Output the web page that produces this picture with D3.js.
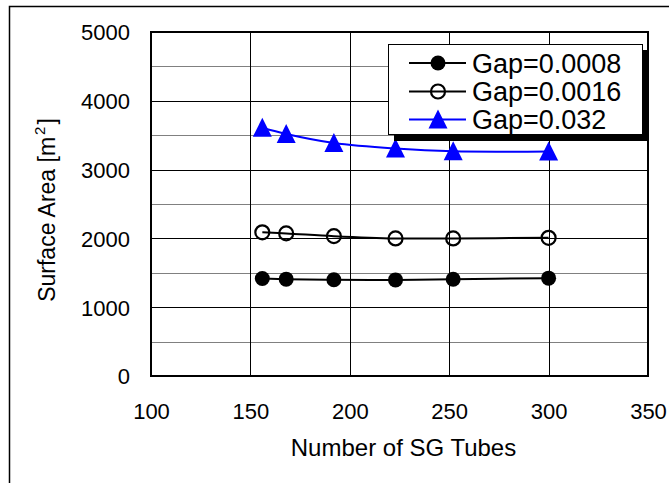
<!DOCTYPE html><html><head><meta charset="UTF-8"><script src="https://d3js.org/d3.v7.min.js"></script><style>
            body { margin: 0; background: #fff; }
            text { font-family: "Liberation Sans", Arial, sans-serif; fill: #000; }
        </style></head><body><div id="chart"></div><script>
            const tubes = [156, 168, 192, 223, 252, 300];
            const gap0008 = [1418, 1408, 1398, 1397, 1407, 1422];
            const gap0016 = [2088, 2073, 2033, 2000, 2000, 2008];
            const gap032 = [3608, 3518, 3387, 3306, 3266, 3264];
            const seriesNames = ['Gap=0.0008', 'Gap=0.0016', 'Gap=0.032'];
            const xTicks = [100, 150, 200, 250, 300, 350];
            const yTicks = [0, 1000, 2000, 3000, 4000, 5000];

            const fullWidth = 669, fullHeight = 483;
            const plotL = 151, plotR = 648, plotT = 32, plotB = 376;

            const svg = d3.select('#chart').append('svg')
                .attr('width', fullWidth)
                .attr('height', fullHeight);

            // outer chart frame (only left/top edges fall inside the picture)
            svg.append('rect')
                .attr('x', 9.5).attr('y', 6.5)
                .attr('width', 700).attr('height', 520)
                .attr('fill', 'none').attr('stroke', '#000').attr('stroke-width', 1.5);

            const x = d3.scaleLinear().domain([100, 350]).range([plotL, plotR]);
            const y = d3.scaleLinear().domain([0, 5000]).range([plotB, plotT]);

            // gridlines
            const grid = svg.append('g');
            grid.selectAll('.minor')
                .data(d3.range(500, 5000, 1000))
                .enter().append('line')
                .attr('x1', plotL).attr('x2', plotR)
                .attr('y1', d => Math.round(y(d)) + 0.5).attr('y2', d => Math.round(y(d)) + 0.5)
                .attr('stroke', '#808080');
            grid.selectAll('.major')
                .data(yTicks.slice(1, -1))
                .enter().append('line')
                .attr('x1', plotL).attr('x2', plotR)
                .attr('y1', d => Math.round(y(d)) + 0.5).attr('y2', d => Math.round(y(d)) + 0.5)
                .attr('stroke', '#000');
            grid.selectAll('.vert')
                .data(xTicks.slice(1, -1))
                .enter().append('line')
                .attr('y1', plotT).attr('y2', plotB)
                .attr('x1', d => Math.round(x(d)) + 0.5).attr('x2', d => Math.round(x(d)) + 0.5)
                .attr('stroke', '#000');

            svg.append('rect')
                .attr('x', plotL).attr('y', plotT)
                .attr('width', plotR - plotL).attr('height', plotB - plotT)
                .attr('fill', 'none').attr('stroke', '#000').attr('stroke-width', 2);

            // axes (labels only)
            const xAxis = svg.append('g')
                .attr('transform', `translate(0,${plotB})`)
                .call(d3.axisBottom(x).tickValues(xTicks).tickSize(0).tickFormat(d3.format('d')));
            xAxis.select('.domain').remove();
            xAxis.selectAll('text').attr('y', 43).attr('dy', 0).style('font-size', '22px')
                .style('font-family', '"Liberation Sans", Arial, sans-serif');

            const yAxis = svg.append('g')
                .attr('transform', `translate(${plotL},0)`)
                .call(d3.axisLeft(y).tickValues(yTicks).tickSize(0).tickFormat(d3.format('d')));
            yAxis.select('.domain').remove();
            yAxis.selectAll('text').attr('x', -21).attr('dy', '0.36em').style('font-size', '22px')
                .style('font-family', '"Liberation Sans", Arial, sans-serif');

            svg.append('text')
                .attr('x', (plotL + plotR) / 2 + 4).attr('y', 456)
                .attr('text-anchor', 'middle')
                .style('font-size', '24px')
                .text('Number of SG Tubes');

            const yTitle = svg.append('text')
                .attr('transform', `translate(55,${(plotT + plotB) / 2 + 6}) rotate(-90)`)
                .attr('text-anchor', 'middle')
                .style('font-size', '23px');
            yTitle.append('tspan').text('Surface Area [m');
            yTitle.append('tspan').attr('dy', -10).attr('dx', 2).style('font-size', '15px').text('2');
            yTitle.append('tspan').attr('dy', 10).attr('dx', 2).text(']');

            // series
            const series = [
                {name: seriesNames[0], values: gap0008, color: '#000', marker: 'filled'},
                {name: seriesNames[1], values: gap0016, color: '#000', marker: 'open'},
                {name: seriesNames[2], values: gap032, color: '#0000ff', marker: 'triangle'}
            ];

            const line = d3.line()
                .x((d, i) => x(tubes[i]))
                .y(d => y(d))
                .curve(d3.curveCatmullRom.alpha(0.5));

            function drawMarker(g, type, color) {
                if (type === 'filled') {
                    g.append('circle').attr('r', 7.5).attr('fill', '#000');
                } else if (type === 'open') {
                    g.append('circle').attr('r', 7).attr('fill', 'none')
                        .attr('stroke', '#000').attr('stroke-width', 2.2);
                } else {
                    g.append('path').attr('d', 'M0,-10L9.5,9L-9.5,9Z').attr('fill', color);
                }
            }

            series.forEach(s => {
                svg.append('path')
                    .datum(s.values)
                    .attr('d', line)
                    .attr('fill', 'none')
                    .attr('stroke', s.color)
                    .attr('stroke-width', 2);
                s.values.forEach((v, i) => {
                    const g = svg.append('g').attr('transform', `translate(${x(tubes[i])},${y(v)})`);
                    drawMarker(g, s.marker, s.color);
                });
            });

            // legend
            const legend = svg.append('g');
            legend.append('rect')
                .attr('x', 394).attr('y', 50).attr('width', 255).attr('height', 91)
                .attr('fill', '#000');
            legend.append('rect')
                .attr('x', 388.5).attr('y', 44.5).attr('width', 254).attr('height', 90)
                .attr('fill', '#fff').attr('stroke', '#000').attr('stroke-width', 1);
            const rowY = [63, 91.5, 119.5];
            series.forEach((s, i) => {
                const g = legend.append('g').attr('transform', `translate(0,${rowY[i]})`);
                g.append('line').attr('x1', 409).attr('x2', 466)
                    .attr('stroke', s.color).attr('stroke-width', 2);
                const m = g.append('g').attr('transform', 'translate(438,0)');
                drawMarker(m, s.marker, s.color);
                g.append('text').attr('x', 472).attr('dy', '0.36em')
                    .style('font-size', '27px')
                    .text(s.name);
            });
        </script></body></html>
